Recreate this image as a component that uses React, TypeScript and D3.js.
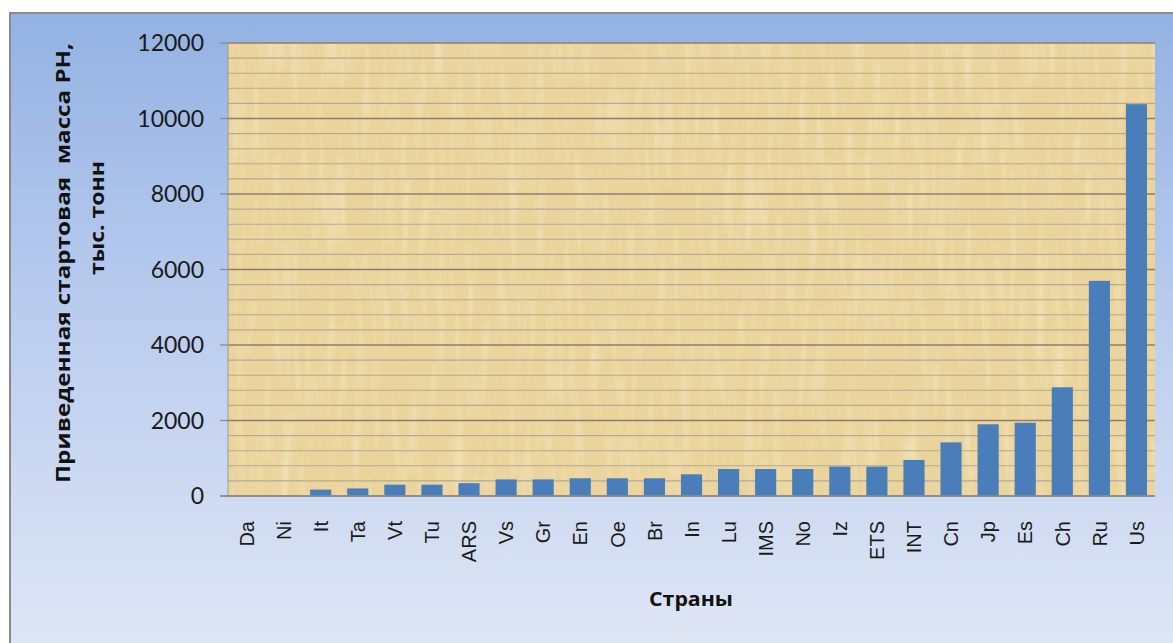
import React from "react";
import * as d3 from "d3";

const categories = ["Da","Ni","It","Ta","Vt","Tu","ARS","Vs","Gr","En","Oe","Br","In","Lu","IMS","No","Iz","ETS","INT","Cn","Jp","Es","Ch","Ru","Us"];
const values = [0,0,170,200,300,300,340,440,440,470,470,470,575,715,715,715,780,780,955,1420,1900,1940,2880,5700,10380];
const yTicks = [0,2000,4000,6000,8000,10000,12000];
const yTitleLine1 = "Приведенная стартовая  масса РН,";
const yTitleLine2 = "тыс. тонн";
const xTitle = "Страны";

const W = 1173, H = 643;
const left = 228, right = 1155, top = 43, bottom = 496;

export default function App() {
  const x = d3.scaleBand<string>().domain(categories).range([left, right]).paddingInner(0.43).paddingOuter(0.215);
  const y = d3.scaleLinear().domain([0, 12000]).range([bottom, top]);
  const minor = d3.range(0, 12001, 400);

  return (
    <svg width={W} height={H} style={{ position: "absolute", left: 0, top: 0, display: "block" }}>
      <defs>
        <linearGradient id="bg" x1="0" y1="0" x2="0" y2="1">
          <stop offset="0" stopColor="#93b2e2" />
          <stop offset="0.45" stopColor="#b9cbee" />
          <stop offset="1" stopColor="#e0e7f5" />
        </linearGradient>
        <filter id="fibersDark" x="0" y="0" width="1" height="1">
          <feTurbulence type="fractalNoise" baseFrequency="0.13 0.009" numOctaves="3" seed="7" />
          <feColorMatrix type="matrix" values="0 0 0 0 0.80  0 0 0 0 0.66  0 0 0 0 0.40  1.8 0 0 0 -0.85" />
        </filter>
        <filter id="fibersLight" x="0" y="0" width="1" height="1">
          <feTurbulence type="fractalNoise" baseFrequency="0.11 0.012" numOctaves="3" seed="21" />
          <feColorMatrix type="matrix" values="0 0 0 0 0.97  0 0 0 0 0.90  0 0 0 0 0.72  1.8 0 0 0 -0.85" />
        </filter>
        <filter id="blots" x="0" y="0" width="1" height="1">
          <feTurbulence type="fractalNoise" baseFrequency="0.03 0.02" numOctaves="2" seed="3" />
          <feColorMatrix type="matrix" values="0 0 0 0 0.85  0 0 0 0 0.72  0 0 0 0 0.45  1.5 0 0 0 -0.7" />
        </filter>
      </defs>
      <rect x={10} y={13} width={W} height={H} fill="url(#bg)" stroke="#8a8a8a" strokeWidth={2} />

      {/* plot area with papyrus texture */}
      <rect x={left} y={top} width={right - left} height={bottom - top} fill="#ebd49b" />
      <rect x={left} y={top} width={right - left} height={bottom - top} filter="url(#blots)" opacity={0.35} />
      <rect x={left} y={top} width={right - left} height={bottom - top} filter="url(#fibersLight)" opacity={0.5} />
      <rect x={left} y={top} width={right - left} height={bottom - top} filter="url(#fibersDark)" opacity={0.55} />

      {/* gridlines */}
      {minor.map((v) => (
        <line key={"m" + v} x1={left} x2={right} y1={y(v)} y2={y(v)}
          stroke={v % 2000 === 0 ? "#8a7f6e" : "#b2aa94"} strokeWidth={v % 2000 === 0 ? 1.4 : 1.1} />
      ))}
      <line x1={left} x2={left} y1={top} y2={bottom} stroke="#9a9a9a" strokeWidth={1} />

      {/* bars */}
      {categories.map((c, i) => (
        <rect key={c} x={x(c)} y={y(values[i])} width={x.bandwidth()} height={bottom - y(values[i])} fill="#4a7ebb" />
      ))}

      {/* x axis line */}
      <line x1={220} x2={right} y1={bottom} y2={bottom} stroke="#8c8c8c" strokeWidth={1.3} />

      {/* y ticks */}
      {yTicks.map((v) => (
        <g key={"t" + v}>
          <line x1={220} x2={left} y1={y(v)} y2={y(v)} stroke="#8c8c8c" strokeWidth={1.3} />
          <text x={204} y={y(v)} dy="0.36em" textAnchor="end" fontFamily="Lato, 'Open Sans', sans-serif" fontSize={23} fill="#1a1a1a">{v}</text>
        </g>
      ))}

      {/* x tick labels */}
      {categories.map((c) => (
        <text key={"x" + c} transform={`translate(${(x(c) as number) + x.bandwidth() / 2},521) rotate(-90)`}
          dy="0.36em" textAnchor="end" fontFamily="'Liberation Sans', Arial, sans-serif" fontSize={20} fill="#1a1a1a">{c}</text>
      ))}

      {/* axis titles */}
      <text transform="translate(70,263) rotate(-90)" textAnchor="middle" fontFamily="'Open Sans', 'Noto Sans', sans-serif"
        fontWeight="bold" fontSize={20} fill="#111" textLength={440} lengthAdjust="spacingAndGlyphs" xmlSpace="preserve">{yTitleLine1}</text>
      <text transform="translate(104,218) rotate(-90)" textAnchor="middle" fontFamily="'Open Sans', 'Noto Sans', sans-serif"
        fontWeight="bold" fontSize={20} fill="#111" textLength={114} lengthAdjust="spacingAndGlyphs">{yTitleLine2}</text>
      <text x={691} y={606} textAnchor="middle" fontFamily="'Open Sans', 'Noto Sans', sans-serif"
        fontWeight="bold" fontSize={20} fill="#111" textLength={84} lengthAdjust="spacingAndGlyphs">{xTitle}</text>
    </svg>
  );
}
